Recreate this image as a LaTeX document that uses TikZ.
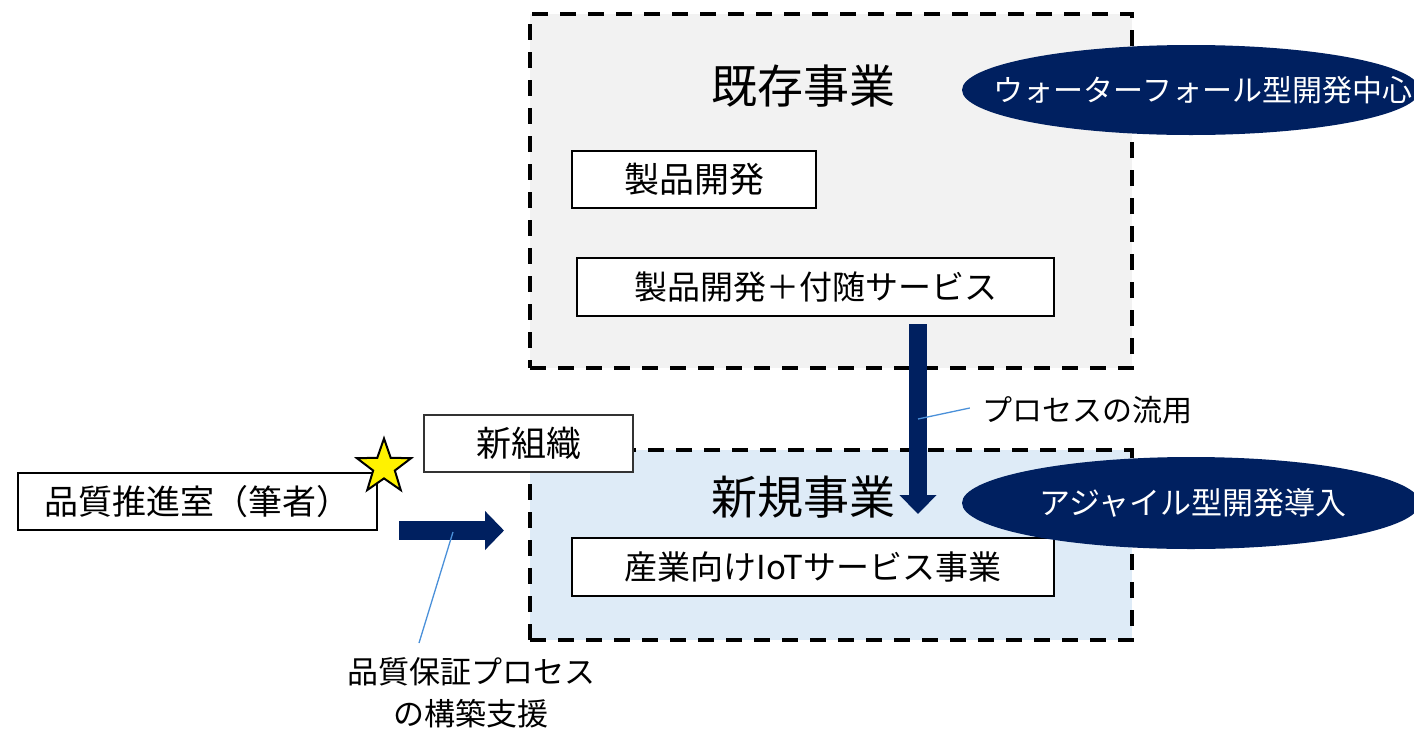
\documentclass[tikz,border=0pt]{standalone}
\usepackage{fontspec}
\setmainfont{Noto Sans CJK JP}
\usetikzlibrary{shapes.geometric,arrows.meta}
\definecolor{navy}{HTML}{002060}
\definecolor{graybg}{HTML}{F2F2F2}
\definecolor{bluebg}{HTML}{DEEBF7}
\definecolor{callout}{HTML}{4A90D9}
\newcommand{\fs}[1]{\fontsize{#1}{#1}\selectfont}
\tikzset{
  bigbox/.style={draw=black, line width=4pt, dash pattern=on 16pt off 12pt, inner sep=0pt},
  whitebox/.style={draw=black, line width=2.5pt, fill=white, inner sep=0pt, font=\fs{33}},
  navyell/.style={ellipse, fill=navy, inner sep=0pt},
  elltext/.style={text=white, inner sep=0pt, font=\fs{30}},
  bigarrow/.style={navy, -{Triangle[width=36pt,length=19pt]}},
  calloutline/.style={callout, line width=1.3pt},
  plain/.style={inner sep=0pt, font=\fs{30}},
  title/.style={inner sep=0pt, font=\fs{46}}
}
\begin{document}
\begin{tikzpicture}[x=1pt,y=-1pt]
\path[use as bounding box] (0,0) rectangle (1414,729);
% big boxes
\node[bigbox, fill=graybg, minimum width=602pt, minimum height=354pt] (exist) at (831,191) {};
\node[bigbox, fill=bluebg, minimum width=602pt, minimum height=190pt] (newb) at (831,545) {};
\node[title] (existT) at (803,86) {既存事業};
\node[title] (newT) at (803,497) {新規事業};
% inner boxes
\node[whitebox, minimum width=244pt, minimum height=57pt, font=\fs{35}] (prod) at (694,179.5) {製品開発};
\node[whitebox, minimum width=477pt, minimum height=58pt] (prodsv) at (815.5,287) {製品開発＋付随サービス};
\node[whitebox, minimum width=482pt, minimum height=58pt] (iot) at (813,567) {産業向けIoTサービス事業};
\node[whitebox, line width=1.5pt, draw=black!80, minimum width=209pt, minimum height=57pt, font=\fs{35}] (org) at (528.5,443.5) {新組織};
\node[whitebox, minimum width=359pt, minimum height=57pt, font=\fs{34}] (qa) at (197.5,501.5) {品質推進室（筆者）};
% star
\node[star, star points=5, star point ratio=2.5, minimum size=57pt, inner sep=0pt, fill=yellow, draw=black, line width=2pt] (star) at (384,467) {};
% ellipses
\node[navyell, minimum width=458pt, minimum height=90pt] (wf) at (1191,90) {};
\node[elltext] (wfT) at (1203,90) {ウォーターフォール型開発中心};
\node[navyell, minimum width=458pt, minimum height=92pt] (ag) at (1191,503) {};
\node[elltext, font=\fs{31}] (agT) at (1193,503) {アジャイル型開発導入};
% arrows
\coordinate (d1) at (918,324);
\coordinate (d2) at (918,514);
\draw[bigarrow, line width=18pt] (d1) -- (d2);
\coordinate (r1) at (399,530.5);
\coordinate (r2) at (504,530.5);
\draw[bigarrow, line width=19pt, -{Triangle[width=38pt,length=19pt]}] (r1) -- (r2);
% callouts
\node[plain] (reuse) at (1087,410) {プロセスの流用};
\coordinate (c1) at (918,419);
\draw[calloutline] (c1) -- ([xshift=-12pt,yshift=2pt]reuse.west);
\node[plain, font=\fs{31}, align=center] (supp) at (471,693) {品質保証プロセス\\[11pt]の構築支援};
\coordinate (c2) at (453,532);
\coordinate (c3) at (419,643);
\draw[calloutline] (c2) -- (c3);
\end{tikzpicture}
\end{document}
